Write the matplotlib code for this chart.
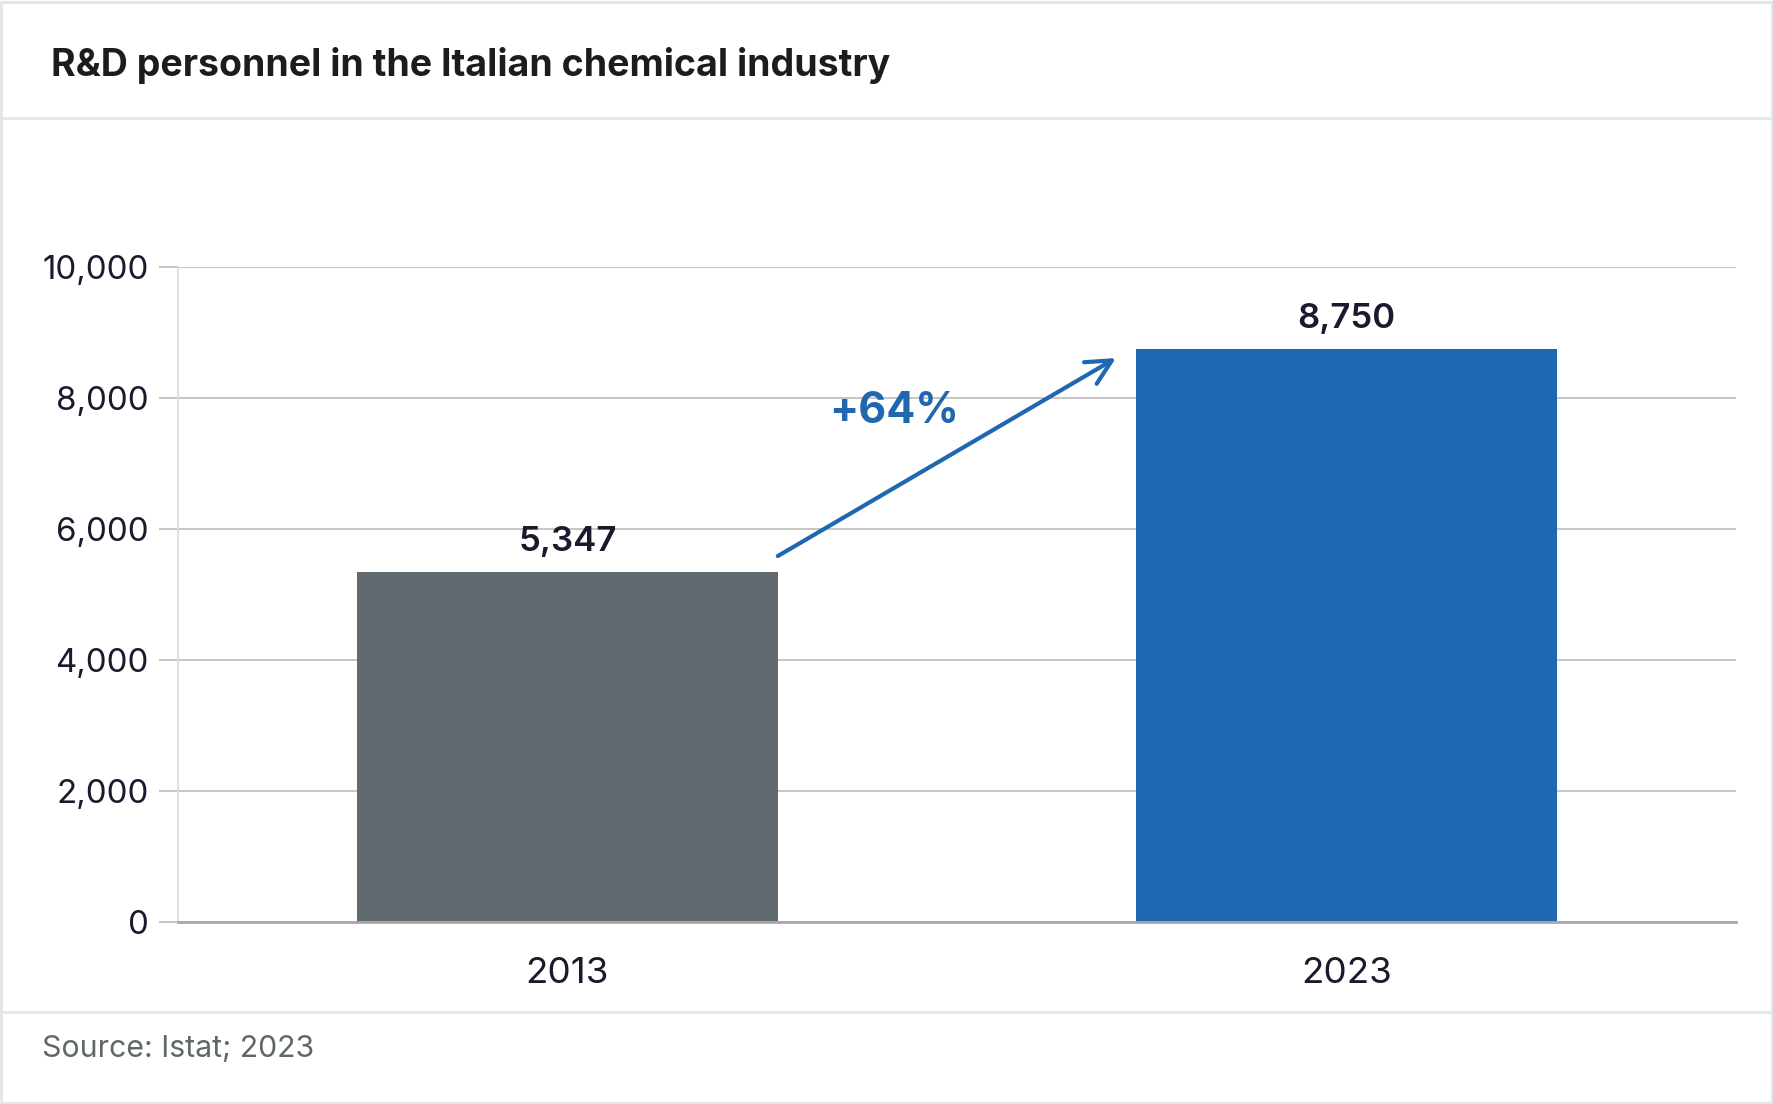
import matplotlib
matplotlib.use("Agg")
import matplotlib.pyplot as plt
from matplotlib.patches import Rectangle
from matplotlib.lines import Line2D
from matplotlib.ticker import FuncFormatter

# --- data ---
years = ["2013", "2023"]
personnel = [5347, 8750]
bar_colors = ["#5f696e", "#1f67b0"]
yticks = [0, 2000, 4000, 6000, 8000, 10000]

title = "R&D personnel in the Italian chemical industry"
source = "Source: Istat; 2023"

W, H = 1774, 1104
TEXT = "#1a1a2e"
BLUE = "#1f67b0"
BORDER = "#e3e6eb"

plt.rcParams["font.family"] = ["Inter", "DejaVu Sans"]

fig = plt.figure(figsize=(W / 100, H / 100), dpi=100)
fig.patch.set_facecolor("white")

# axes placed in pixel terms
x0, x1, ytop, ybot = 178, 1736, 267, 922
ax = fig.add_axes([x0 / W, 1 - ybot / H, (x1 - x0) / W, (ybot - ytop) / H])

xs = range(len(years))
bw = 0.54
ax.bar(xs, personnel, width=bw, color=bar_colors, zorder=3)

ax.set_xlim(-0.5, 1.5)
ax.set_ylim(0, 10000)
ax.set_yticks(yticks)
ax.yaxis.set_major_formatter(FuncFormatter(lambda v, p: f"{int(v):,}"))
ax.set_xticks(list(xs))
ax.set_xticklabels(years)

ax.grid(axis="y", color="#c6c6c6", linewidth=1.4, zorder=0)
ax.set_axisbelow(True)
for s in ["top", "right"]:
    ax.spines[s].set_visible(False)
ax.spines["left"].set_color("#dedede")
ax.spines["left"].set_linewidth(1.3)
ax.spines["bottom"].set_color("#a8a8a8")
ax.spines["bottom"].set_linewidth(2)
ax.spines["bottom"].set_zorder(4)

ax.tick_params(axis="y", length=14, width=1.4, color="#c6c6c6", pad=7,
               labelsize=23.8, labelcolor=TEXT)
ax.tick_params(axis="x", length=0, pad=25, labelsize=26.5, labelcolor=TEXT)

# value labels
for i, v in enumerate(personnel):
    ax.annotate(f"{v:,}", (i, v), xytext=(0, 15), textcoords="offset points",
                ha="center", va="baseline", fontsize=25, fontweight="semibold",
                color=TEXT)

# growth arrow
ax.annotate("", xy=(1 - bw / 2 - 0.026, personnel[1] - 140),
            xytext=(bw / 2, personnel[0] + 240),
            arrowprops=dict(arrowstyle="->, head_length=0.9, head_width=0.45",
                            mutation_scale=20, lw=3, color=BLUE,
                            shrinkA=0, shrinkB=0), zorder=5)
pct = round((personnel[1] / personnel[0] - 1) * 100)
ax.text(0.419, 7800, f"+{pct}%", ha="center", va="center", fontsize=31,
        fontweight="bold", color=BLUE)

# title / source
fig.text(51 / W, 1 - 76 / H, title, ha="left", va="baseline", fontsize=27,
         fontweight="bold", color="#1c1c1c")
fig.text(42 / W, 1 - 1057 / H, source, ha="left", va="baseline", fontsize=21.8,
         color="#606769")

# card frame and separators
fig.add_artist(Rectangle((1.5 / W, 1.5 / H), (W - 3) / W, (H - 3) / H,
                         transform=fig.transFigure, fill=False,
                         edgecolor=BORDER, linewidth=2.2))
for yy in [118, 1012]:
    fig.add_artist(Line2D([0, 1], [1 - yy / H, 1 - yy / H],
                          transform=fig.transFigure, color=BORDER, linewidth=2))

fig.savefig("out.png", dpi=100)
